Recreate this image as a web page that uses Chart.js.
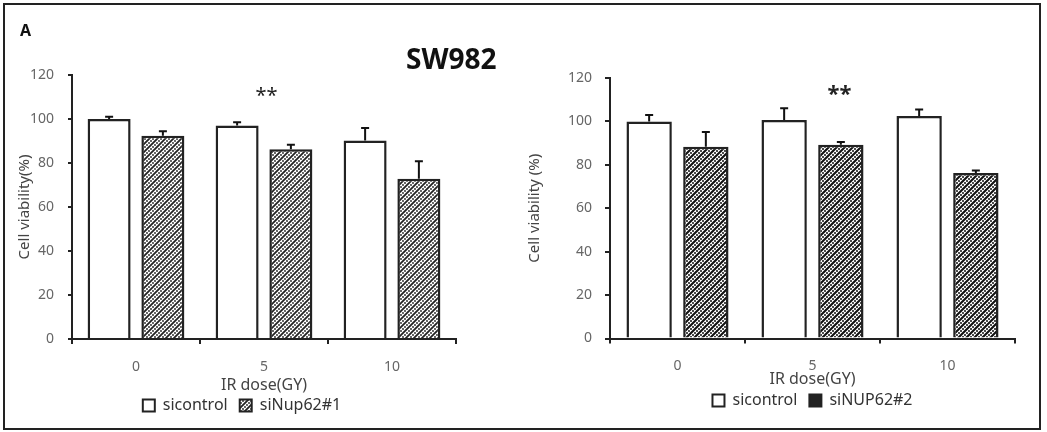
<!DOCTYPE html>
<html>
<head>
<meta charset="utf-8">
<script src="https://cdn.jsdelivr.net/npm/chart.js@4/dist/chart.umd.min.js"></script>
<style>
  html, body { margin: 0; padding: 0; background: #fff; }
  #page { position: relative; width: 1047px; height: 432px; overflow: hidden; background: #fff; }
  #frame { position: absolute; left: 3px; top: 3px; width: 1038px; height: 427px; box-sizing: border-box; border: 2px solid #222; }
  canvas { position: absolute; top: 0; }
  #cL { left: 0; }
  #cR { left: 520px; }
  .lbl { position: absolute; font-family: "Noto Sans", "Open Sans", sans-serif; font-weight: bold; color: #111; line-height: 1; white-space: nowrap; }
  #panelA { left: 20px; top: 22px; font-size: 16px; }
  #cellTitle { left: 406px; top: 44px; font-size: 28px; }
</style>
</head>
<body>
<div id="page">
  <div id="frame"></div>
  <canvas id="cL" width="520" height="432"></canvas>
  <canvas id="cR" width="527" height="432"></canvas>
  <div class="lbl" id="panelA">A</div>
  <div class="lbl" id="cellTitle">SW982</div>
</div>
<script>
// ---------- data ----------
const categories = ['0', '5', '10'];
const xTitle = 'IR dose(GY)';

const leftYTitle = 'Cell viability(%)';
const leftControl = [100, 97, 90.2];
const leftControlErr = [1, 1.5, 5.7];
const leftSi1 = [92.4, 86.3, 72.8];
const leftSi1Err = [2, 2, 8];
const leftSeriesNames = ['sicontrol', 'siNup62#1'];

const rightYTitle = 'Cell viability (%)';
const rightControl = [100, 100.6, 102.5];
const rightControlErr = [3, 5.5, 3];
const rightSi2 = [88.3, 89.2, 76.2];
const rightSi2Err = [6.8, 1.3, 1.2];
const rightSeriesNames = ['sicontrol', 'siNUP62#2'];

const yMin = 0, yMax = 120, yStep = 20;

// significance marks: category index, value, shift within category
const leftSig = { text: '**', cat: 1, value: 112, shift: 0.02 };
const rightSig = { text: '**', cat: 1, value: 114.5, shift: 0.2 };

// ---------- patterns ----------
function makeHatch(lineW, dotR, color) {
  const s = 8;
  const c = document.createElement('canvas');
  c.width = s; c.height = s;
  const g = c.getContext('2d');
  g.fillStyle = '#fff';
  g.fillRect(0, 0, s, s);
  g.strokeStyle = color;
  g.lineWidth = lineW;
  g.beginPath();
  g.moveTo(-1, s + 1); g.lineTo(s + 1, -1);
  g.moveTo(-1, 1); g.lineTo(1, -1);
  g.moveTo(s - 1, s + 1); g.lineTo(s + 1, s - 1);
  g.stroke();
  g.fillStyle = color;
  [[1, 3], [3, 1], [5, 7], [7, 5]].forEach(p => {
    g.beginPath();
    g.arc(p[0], p[1], dotR, 0, Math.PI * 2);
    g.fill();
  });
  return g.createPattern(c, 'repeat');
}

// ---------- plugins ----------
const errorBarPlugin = {
  id: 'errorBars',
  afterDatasetsDraw(chart, args, opts) {
    const ctx = chart.ctx;
    const y = chart.scales.y;
    ctx.save();
    ctx.strokeStyle = opts.color || '#111';
    ctx.lineWidth = opts.lineWidth || 2;
    chart.data.datasets.forEach((ds, di) => {
      const meta = chart.getDatasetMeta(di);
      meta.data.forEach((bar, i) => {
        const v = ds.data[i];
        const e = ds.errors[i];
        const y0 = y.getPixelForValue(v);
        const y1 = y.getPixelForValue(v + e);
        const half = opts.capHalf || 4;
        ctx.beginPath();
        ctx.moveTo(bar.x, y0);
        ctx.lineTo(bar.x, y1);
        ctx.moveTo(bar.x - half, y1);
        ctx.lineTo(bar.x + half, y1);
        ctx.stroke();
      });
    });
    ctx.restore();
  }
};

const sigPlugin = {
  id: 'sigMark',
  afterDraw(chart, args, opts) {
    const sig = opts.sig;
    if (!sig) return;
    const x = chart.scales.x, y = chart.scales.y;
    const catW = x.width / chart.data.labels.length;
    const px = x.getPixelForValue(sig.cat) + sig.shift * catW;
    const py = y.getPixelForValue(sig.value);
    const ctx = chart.ctx;
    ctx.save();
    ctx.fillStyle = opts.color || '#222';
    ctx.font = opts.font;
    ctx.textAlign = 'center';
    ctx.textBaseline = 'middle';
    ctx.fillText(sig.text, px, py + (opts.dy || 0));
    ctx.restore();
  }
};

const FONT = '"Noto Sans", "Open Sans", sans-serif';

function buildChart(id, p) {
  const ctx = document.getElementById(id).getContext('2d');
  return new Chart(ctx, {
    type: 'bar',
    data: {
      labels: categories,
      datasets: [
        {
          label: p.names[0], data: p.control, errors: p.controlErr,
          backgroundColor: '#fff', borderColor: '#222', borderWidth: p.barBorder,
          borderSkipped: 'bottom', categoryPercentage: 0.84, barPercentage: 0.8
        },
        {
          label: p.names[1], data: p.treated, errors: p.treatedErr,
          backgroundColor: p.pattern, borderColor: '#222', borderWidth: p.barBorder,
          borderSkipped: 'bottom', categoryPercentage: 0.84, barPercentage: 0.8
        }
      ]
    },
    plugins: [errorBarPlugin, sigPlugin],
    options: {
      responsive: false,
      animation: false,
      devicePixelRatio: 1,
      layout: { padding: p.padding },
      plugins: {
        tooltip: { enabled: false },
        title: { display: false },
        legend: {
          display: true,
          position: 'bottom',
          fullSize: p.legendFull,
          labels: {
            font: { family: FONT, size: 16 },
            color: '#333',
            boxWidth: 12,
            boxHeight: 12,
            padding: 12,
            generateLabels(chart) {
              const items = Chart.defaults.plugins.legend.labels.generateLabels(chart);
              items.forEach((it, i) => {
                it.lineWidth = 2;
                it.strokeStyle = '#222';
                if (i === 1 && p.legendFill) it.fillStyle = p.legendFill;
              });
              return items;
            }
          }
        },
        errorBars: { color: '#111', lineWidth: 2, capHalf: 4 },
        sigMark: { sig: p.sig, font: p.sigFont, color: '#222', dy: p.sigDy }
      },
      scales: {
        x: {
          grid: { display: true, drawOnChartArea: false, drawTicks: true, tickLength: 5, color: '#222', lineWidth: 2, offset: true },
          border: { display: true, color: '#222', width: 2 },
          ticks: { font: { family: FONT, size: 14 }, color: '#666', padding: p.xTickPad, maxRotation: 0 },
          title: { display: true, text: xTitle, font: { family: FONT, size: 16 }, color: '#444', padding: { top: 0, bottom: p.xTitlePadB } },
          afterFit(scale) { scale.height = p.xHeight; }
        },
        y: {
          min: yMin, max: yMax,
          grid: { display: true, drawOnChartArea: false, drawTicks: true, tickLength: p.yTickLen, color: '#222', lineWidth: 2 },
          border: { display: true, color: '#222', width: 2 },
          ticks: { stepSize: yStep, font: { family: FONT, size: 14 }, color: '#666', padding: p.yTickPad },
          title: { display: true, text: p.yTitle, font: { family: FONT, size: 15 }, color: '#444', padding: { top: p.yTitlePadT, bottom: 0 } },
          afterFit(scale) { scale.width = p.yWidth; }
        }
      }
    }
  });
}

buildChart('cL', {
  names: leftSeriesNames, control: leftControl, controlErr: leftControlErr,
  treated: leftSi1, treatedErr: leftSi1Err,
  pattern: makeHatch(1.8, 0.9, '#222'), legendFill: null, barBorder: 2.5, legendFull: true,
  padding: { left: 28, top: 75, right: 64, bottom: 8.5 },
  xHeight: 46.5, xTickPad: 14.6, xTitlePadB: -10,
  yWidth: 44, yTickLen: 4, yTickPad: 14, yTitle: leftYTitle, yTitlePadT: -12,
  sig: leftSig, sigFont: '20px ' + FONT, sigDy: 4
});

buildChart('cR', {
  names: rightSeriesNames, control: rightControl, controlErr: rightControlErr,
  treated: rightSi2, treatedErr: rightSi2Err,
  pattern: makeHatch(2.1, 1.0, '#111'), legendFill: '#222', barBorder: 2.5, legendFull: false,
  padding: { left: 0, top: 78, right: 32, bottom: 13.5 },
  xHeight: 42, xTickPad: 14, xTitlePadB: -9,
  yWidth: 90, yTickLen: 5, yTickPad: 13, yTitle: rightYTitle, yTitlePadT: 6,
  sig: rightSig, sigFont: 'bold 22px ' + FONT, sigDy: 5
});
</script>
</body>
</html>
